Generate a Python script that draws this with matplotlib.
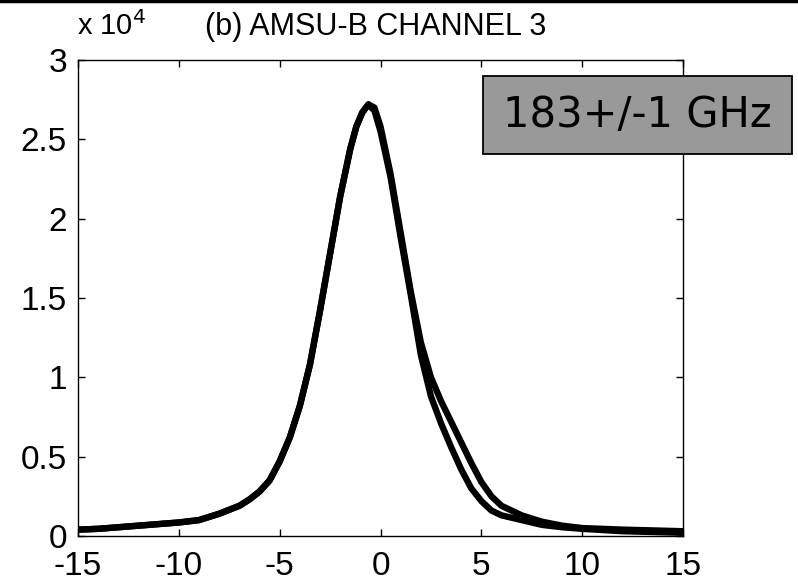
import numpy as np
import matplotlib.pyplot as plt
from matplotlib.patches import Rectangle
from matplotlib.lines import Line2D

# offset (x) and counts (in units of 1e4)
x_left = [-15, -14, -13, -12, -11, -10, -9, -8, -7, -6.5, -6, -5.5, -5,
          -4.5, -4, -3.5, -3, -2.5, -2, -1.5, -1.2, -0.9, -0.6]
y_left = [0.04, 0.045, 0.055, 0.065, 0.075, 0.085, 0.10, 0.14, 0.19, 0.23,
          0.28, 0.35, 0.47, 0.62, 0.82, 1.08, 1.42, 1.78, 2.14, 2.44, 2.58,
          2.67, 2.72]

x_right = [-0.3, 0, 0.5, 1.0, 1.5, 2.0, 2.5, 3.0, 3.5, 4.0, 4.5, 5.0, 5.5,
           6.0, 7.0, 8.0, 9.0, 10, 12, 15]
y_inner = [2.68, 2.55, 2.26, 1.88, 1.52, 1.14, 0.88, 0.71, 0.56, 0.42,
           0.30, 0.22, 0.16, 0.13, 0.10, 0.07, 0.055, 0.045, 0.03, 0.02]
y_outer = [2.70, 2.58, 2.28, 1.91, 1.54, 1.22, 1.00, 0.85, 0.72, 0.59,
           0.46, 0.34, 0.25, 0.19, 0.13, 0.09, 0.065, 0.05, 0.04, 0.03]

xticks = [-15, -10, -5, 0, 5, 10, 15]
yticks = [0, 0.5, 1, 1.5, 2, 2.5, 3]

plt.rcParams['font.family'] = ['Liberation Sans', 'DejaVu Sans']

fig = plt.figure(figsize=(7.98, 5.81), dpi=100)
ax = fig.add_axes([0.0977, 0.0775, 0.7583, 0.8192])

for yr in (y_inner, y_outer):
    ax.plot(x_left + x_right, y_left + yr, color='black', lw=4.6,
            solid_capstyle='round', solid_joinstyle='round')

ax.set_xlim(-15, 15)
ax.set_ylim(0, 3)
ax.set_xticks(xticks)
ax.set_yticks(yticks)
ax.set_xticklabels([str(t) for t in xticks])
ax.set_yticklabels(['0', '0.5', '1', '1.5', '2', '2.5', '3'])
ax.tick_params(direction='in', length=5, width=1, top=True, right=True,
               labelsize=24)
ax.tick_params(axis='x', pad=11)
ax.tick_params(axis='y', pad=8)
for s in ax.spines.values():
    s.set_linewidth(1)

fig.text(0.4706, 0.94, '(b) AMSU-B CHANNEL 3', ha='center', va='baseline',
         fontsize=22)
fig.text(0.097, 0.94, r'x 10$^{4}$', ha='left', va='baseline', fontsize=21)

# grey label box
fig.patches.append(Rectangle((0.605, 0.735), 0.387, 0.134,
                             transform=fig.transFigure, facecolor='#999999',
                             edgecolor='black', lw=1.3))
fig.text(0.7985, 0.802, '183+/-1 GHz', ha='center', va='center',
         fontsize=30, family='DejaVu Sans')

# black rule at the very top
fig.lines.append(Line2D([0, 1], [0.9975, 0.9975], transform=fig.transFigure,
                        color='black', lw=2.5))

fig.savefig('out.png', dpi=100)
